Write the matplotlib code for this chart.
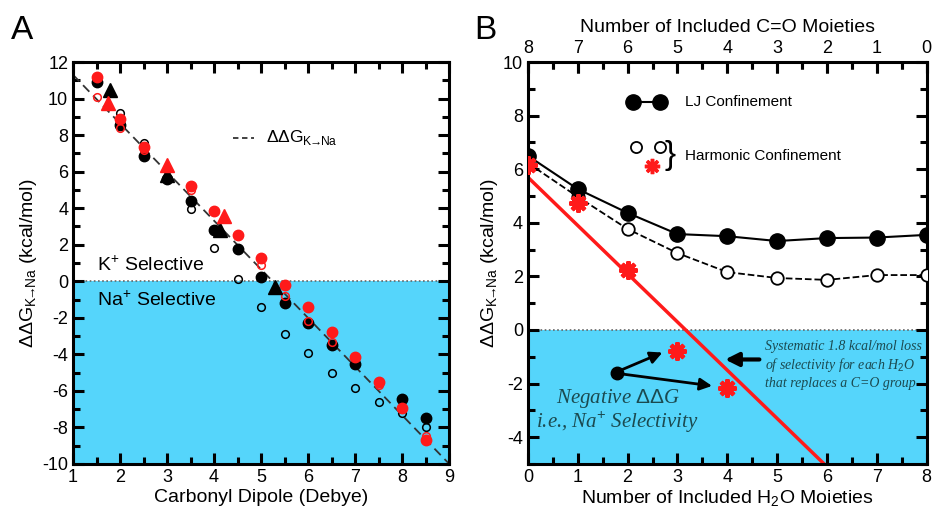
import numpy as np
import matplotlib
matplotlib.use("Agg")
import matplotlib.pyplot as plt
from matplotlib.ticker import MultipleLocator

plt.rcParams['font.family'] = ['Liberation Sans', 'DejaVu Sans']
plt.rcParams['mathtext.fontset'] = 'custom'
plt.rcParams['mathtext.rm'] = 'Liberation Sans'
plt.rcParams['axes.unicode_minus'] = False

CYAN = '#55d5fb'
RED = '#ff1a1a'

# ---------------- panel A data ----------------
bf_x = [1.5, 2, 2.5, 3, 3.5, 4, 4.5, 5, 5.5, 6, 6.5, 7, 8, 8.5]
bf_y = [10.9, 8.55, 6.86, 5.6, 4.4, 2.8, 1.75, 0.25, -1.2, -2.3, -3.5, -4.55, -6.45, -7.5]
rf_x = [1.5, 2, 2.5, 3.5, 4, 4.5, 5, 5.5, 6, 6.5, 7, 7.5, 8, 8.5]
rf_y = [11.18, 8.9, 7.35, 5.2, 3.85, 2.53, 1.27, -0.2, -1.4, -2.8, -4.15, -5.5, -6.95, -8.7]
bo_x = [2, 2.5, 3.5, 4, 4.5, 5, 5.5, 6, 6.5, 7, 7.5, 8, 8.5]
bo_y = [9.2, 7.57, 3.95, 1.8, 0.15, -1.4, -2.9, -3.95, -5.0, -5.85, -6.6, -7.2, -8.0]
ro_x = [1.5, 2, 2.5, 3.5, 5, 5.5, 6, 6.5, 7.5, 8.5]
ro_y = [10.1, 8.4, 7.2, 5.0, 0.9, -0.8, -2.2, -3.3, -5.7, -8.45]
bt_x = [1.79, 3.0, 4.13, 5.29]
bt_y = [10.47, 5.8, 2.78, -0.3]
rt_x = [1.75, 3.0, 4.2]
rt_y = [9.76, 6.36, 3.57]
fit_x = [1.0, 9.0]
fit_y = [11.3, -10.0]

# ---------------- panel B data ----------------
n_h2o = [0, 1, 2, 3, 4, 5, 6, 7, 8]
lj = [6.5, 5.26, 4.37, 3.58, 3.5, 3.32, 3.43, 3.45, 3.55]
harm = [6.23, 4.97, 3.77, 2.87, 2.16, 1.94, 1.87, 2.05, 2.05]
star_x = [0, 1, 2, 3, 4]
star_y = [6.15, 4.74, 2.24, -0.78, -2.16]
line_x = [0.0, 5.95]
line_y = [5.7, -5.01]
co_labels = ['8', '7', '6', '5', '4', '3', '2', '1', '0']

DDG = r'$\Delta\Delta$G$_{\mathrm{K}\!\!\rightarrow\!\!\mathrm{Na}}$'

fig = plt.figure(figsize=(9.36, 5.16), dpi=100)
axA = fig.add_axes([0.078, 0.1008, 0.402, 0.779])
axB = fig.add_axes([0.564, 0.1008, 0.426, 0.779])


def style_axes(ax):
	for s in ax.spines.values():
		s.set_linewidth(2.2)
	ax.tick_params(which='both', direction='in', top=True, right=True, width=2.2, labelsize=13)
	ax.tick_params(which='major', length=8)
	ax.tick_params(which='minor', length=5)


# ---- A ----
axA.axhspan(-10, 0, color=CYAN, zorder=0, lw=0)
axA.axhline(0, color='#666666', ls=(0, (1, 1.5)), lw=1.2, zorder=1)
axA.plot(fit_x, fit_y, color='#333333', ls=(0, (5, 3)), lw=1.3, zorder=2)
axA.plot(bo_x, bo_y, 'o', mfc='none', mec='black', ms=5.5, mew=1.1, zorder=3)
axA.plot(bf_x, bf_y, 'o', color='black', ms=7.5, zorder=4)
axA.plot(rf_x, rf_y, 'o', color=RED, ms=7.5, zorder=5)
axA.plot(ro_x, ro_y, 'o', mfc='none', mec=RED, ms=5.5, mew=1.1, zorder=6)
axA.plot(bt_x, bt_y, '^', color='black', ms=10, zorder=7)
axA.plot(rt_x, rt_y, '^', color=RED, ms=10, zorder=7)
axA.set_xlim(1, 9)
axA.set_ylim(-10, 12)
axA.xaxis.set_major_locator(MultipleLocator(1))
axA.xaxis.set_minor_locator(MultipleLocator(0.5))
axA.yaxis.set_major_locator(MultipleLocator(2))
axA.yaxis.set_minor_locator(MultipleLocator(1))
style_axes(axA)
axA.set_xlabel('Carbonyl Dipole (Debye)', fontsize=14, labelpad=2)
axA.set_ylabel(DDG + ' (kcal/mol)', fontsize=14, labelpad=2)
axA.plot([4.4, 4.85], [7.85, 7.85], color='#333333', ls=(0, (3, 2)), lw=1.3)
axA.text(5.1, 7.85, DDG, fontsize=12.5, va='center')
axA.text(1.5, 0.9, 'K$^{+}$ Selective', fontsize=14, va='center')
axA.text(1.5, -1.0, 'Na$^{+}$ Selective', fontsize=14, va='center')
fig.text(0.012, 0.925, 'A', fontsize=24)

# ---- B ----
axB.axhspan(-5, 0, color=CYAN, zorder=0, lw=0)
axB.axhline(0, color='#666666', ls=(0, (1, 1.5)), lw=1.2, zorder=1)
axB.plot(line_x, line_y, color=RED, lw=2.5, zorder=2)
axB.plot(n_h2o, harm, '--o', color='black', mfc='white', ms=9, mew=1.3, lw=1.3, zorder=3)
axB.plot(n_h2o, lj, '-o', color='black', ms=11, lw=1.5, zorder=4)
axB.plot(star_x, star_y, ls='none', marker=(8, 2, 0), color=RED, ms=13, mew=3, zorder=5)
axB.set_xlim(0, 8)
axB.set_ylim(-5, 10)
axB.xaxis.set_major_locator(MultipleLocator(1))
axB.xaxis.set_minor_locator(MultipleLocator(0.5))
axB.yaxis.set_major_locator(MultipleLocator(2))
axB.yaxis.set_minor_locator(MultipleLocator(1))
style_axes(axB)
axB.set_xlabel('Number of Included H$_2$O Moieties', fontsize=14, labelpad=2)
axB.set_ylabel(DDG + ' (kcal/mol)', fontsize=14, labelpad=2)

top = axB.secondary_xaxis('top')
top.set_xticks(n_h2o)
top.set_xticklabels(co_labels)
top.xaxis.set_minor_locator(MultipleLocator(0.5))
top.tick_params(which='both', direction='in', width=2.2, labelsize=13)
top.tick_params(which='major', length=8)
top.tick_params(which='minor', length=5)
top.set_xlabel('Number of Included C=O Moieties', fontsize=14, labelpad=6)

# legend
axB.plot([2.1, 2.65], [8.5, 8.5], '-o', color='black', ms=11, lw=1.5)
axB.text(3.15, 8.5, 'LJ Confinement', fontsize=11, va='center')
axB.plot([2.17, 2.65], [6.83, 6.83], 'o', color='black', mfc='white', ms=8, mew=1.3)
axB.plot([2.48], [6.12], ls='none', marker=(8, 2, 0), color=RED, ms=11, mew=2.5)
axB.text(2.85, 6.5, '}', fontsize=24, va='center', ha='center')
axB.text(3.15, 6.5, 'Harmonic Confinement', fontsize=11, va='center')

# annotations
axB.plot([1.78], [-1.6], 'o', color='black', ms=9)
axB.annotate('', xy=(2.75, -0.8), xytext=(1.8, -1.55),
	arrowprops=dict(arrowstyle='-|>', color='black', lw=2, mutation_scale=18))
axB.annotate('', xy=(3.75, -2.1), xytext=(1.8, -1.62),
	arrowprops=dict(arrowstyle='-|>', color='black', lw=2, mutation_scale=18))
axB.annotate('', xy=(3.9, -1.1), xytext=(4.7, -1.1),
	arrowprops=dict(arrowstyle='-|>', color='black', lw=3, mutation_scale=20))
serif = ['Liberation Serif', 'DejaVu Serif']
axB.text(1.8, -2.55, r'Negative $\mathit{\Delta\Delta}$G', family=serif, style='italic',
	fontsize=15, color='#1b4a50', ha='center', va='center')
axB.text(1.8, -3.45, 'i.e., Na$^{+}$ Selectivity', family=serif, style='italic',
	fontsize=15, color='#1b4a50', ha='center', va='center')
axB.text(4.75, -1.3, 'Systematic 1.8 kcal/mol loss\nof selectivity for each H$_2$O\nthat replaces a C=O group',
	family=serif, style='italic', fontsize=10, color='#1b4a50', va='center', linespacing=1.25)
fig.text(0.507, 0.925, 'B', fontsize=24)

fig.savefig('out.png', dpi=100)
